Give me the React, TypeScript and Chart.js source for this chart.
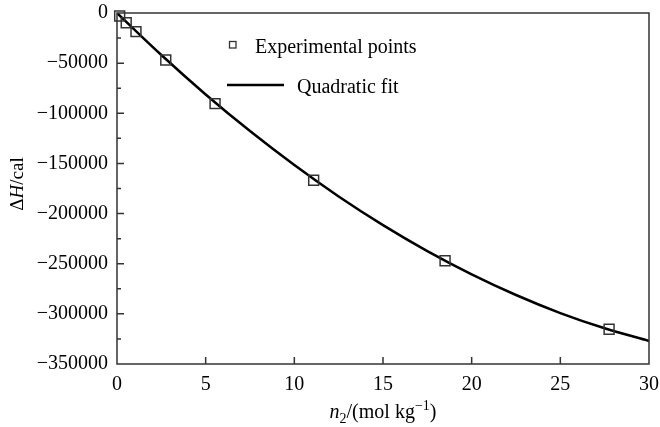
import React, { useEffect, useRef } from 'react';
import { Chart, registerables } from 'chart.js';

Chart.register(...registerables);

// Experimental points (molality, ΔH/cal)
const expX = [0.15, 0.52, 1.07, 2.75, 5.53, 11.09, 18.5, 27.75];
const expY = [-3000, -9700, -18600, -46900, -90400, -166800, -247000, -315300];

// Quadratic fit curve
const fitX = [0, 2.5, 5, 7.5, 10, 12.5, 15, 17.5, 20, 22.5, 25, 27.5, 30];
const fitY = [0, -41900, -81200, -117700, -151600, -182900, -211500, -237400, -260600, -281200, -299200, -314400, -327000];

const xTicks = [0, 5, 10, 15, 20, 25, 30];
const yTicks = [0, -50000, -100000, -150000, -200000, -250000, -300000, -350000];
const yMinorTicks = [-25000, -75000, -125000, -175000, -225000, -275000, -325000];

const legendLabels = ['Experimental points', 'Quadratic fit'];

const FONT = '"Liberation Serif", "Times New Roman", serif';

export default function App() {
  const ref = useRef<HTMLCanvasElement>(null);

  useEffect(() => {
    document.body.style.margin = '0';
    const canvas = ref.current;
    if (!canvas) return;

    const framePlugin = {
      id: 'framePlugin',
      afterDraw(chart: any) {
        const ctx = chart.ctx as CanvasRenderingContext2D;
        const { left, right, top, bottom } = chart.chartArea;
        const xs = chart.scales.x;
        const ys = chart.scales.y;
        ctx.save();
        // frame
        ctx.strokeStyle = '#333';
        ctx.lineWidth = 1.5;
        ctx.strokeRect(left, top, right - left, bottom - top);
        // inward ticks
        ctx.beginPath();
        xTicks.forEach((v) => {
          const px = xs.getPixelForValue(v);
          if (v === 0 || v === 30) return;
          ctx.moveTo(px, bottom);
          ctx.lineTo(px, bottom - 7);
        });
        yTicks.forEach((v) => {
          const py = ys.getPixelForValue(v);
          if (v === 0 || v === -350000) return;
          ctx.moveTo(left, py);
          ctx.lineTo(left + 7, py);
        });
        yMinorTicks.forEach((v) => {
          const py = ys.getPixelForValue(v);
          ctx.moveTo(left, py);
          ctx.lineTo(left + 4, py);
        });
        ctx.stroke();

        // legend
        ctx.fillStyle = '#000';
        ctx.font = `20px ${FONT}`;
        ctx.textBaseline = 'alphabetic';
        ctx.textAlign = 'left';
        ctx.strokeStyle = '#333';
        ctx.lineWidth = 1.3;
        ctx.strokeRect(229.5, 41.5, 6.5, 6.5);
        ctx.fillText(legendLabels[0], 255, 53);
        ctx.strokeStyle = '#000';
        ctx.lineWidth = 2.5;
        ctx.beginPath();
        ctx.moveTo(227, 85);
        ctx.lineTo(284, 85);
        ctx.stroke();
        ctx.fillText(legendLabels[1], 297, 93);

        // x title: n2/(mol kg−1)
        const parts: [string, string, number][] = [
          ['n', `italic 20px ${FONT}`, 0],
          ['2', `14px ${FONT}`, 5],
          ['/(mol kg', `20px ${FONT}`, 0],
          ['\u22121', `14px ${FONT}`, -8],
          [')', `20px ${FONT}`, 0],
        ];
        let total = 0;
        parts.forEach(([t, f]) => {
          ctx.font = f;
          total += ctx.measureText(t).width;
        });
        let cx = (left + right) / 2 - total / 2;
        parts.forEach(([t, f, dy]) => {
          ctx.font = f;
          ctx.fillText(t, cx, 418 + dy);
          cx += ctx.measureText(t).width;
        });

        // y title: ΔH/cal
        const yparts: [string, string][] = [
          ['\u0394', `19px ${FONT}`],
          ['H', `italic 19px ${FONT}`],
          ['/cal', `19px ${FONT}`],
        ];
        let ytotal = 0;
        yparts.forEach(([t, f]) => {
          ctx.font = f;
          ytotal += ctx.measureText(t).width;
        });
        ctx.translate(23, 184);
        ctx.rotate(-Math.PI / 2);
        let yx = -ytotal / 2;
        yparts.forEach(([t, f]) => {
          ctx.font = f;
          ctx.fillText(t, yx, 0);
          yx += ctx.measureText(t).width;
        });
        ctx.restore();
      },
    };

    const chart = new Chart(canvas, {
      type: 'scatter',
      data: {
        datasets: [
          {
            label: legendLabels[1],
            data: fitX.map((x, i) => ({ x, y: fitY[i] })),
            showLine: true,
            borderColor: '#000',
            borderWidth: 2.5,
            pointRadius: 0,
            cubicInterpolationMode: 'monotone',
            order: 2,
          } as any,
          {
            label: legendLabels[0],
            data: expX.map((x, i) => ({ x, y: expY[i] })),
            showLine: false,
            pointStyle: 'rect',
            pointRadius: 7,
            borderColor: '#333',
            borderWidth: 1.5,
            backgroundColor: 'rgba(0,0,0,0)',
            clip: false,
            order: 1,
          } as any,
        ],
      },
      options: {
        responsive: false,
        animation: false,
        layout: { padding: { top: 13, right: 11, left: 0, bottom: 0 } },
        plugins: {
          legend: { display: false },
          tooltip: { enabled: false },
        },
        scales: {
          x: {
            type: 'linear',
            min: 0,
            max: 30,
            afterBuildTicks: (s: any) => {
              s.ticks = xTicks.map((v) => ({ value: v }));
            },
            afterFit: (s: any) => {
              s.height = 63;
              s.paddingLeft = 0;
              s.paddingRight = 0;
            },
            grid: { display: false, drawTicks: false },
            border: { display: false },
            ticks: {
              padding: 9,
              color: '#000',
              font: { family: FONT, size: 20 },
              maxRotation: 0,
              callback: (v: any) => String(v),
            },
          },
          y: {
            type: 'linear',
            min: -350000,
            max: 0,
            afterBuildTicks: (s: any) => {
              s.ticks = yTicks.map((v) => ({ value: v }));
            },
            afterFit: (s: any) => {
              s.width = 117;
              s.paddingTop = 0;
              s.paddingBottom = 0;
            },
            grid: { display: false, drawTicks: false },
            border: { display: false },
            ticks: {
              padding: 9,
              color: '#000',
              font: { family: FONT, size: 20 },
              callback: (v: any) => String(v).replace('-', '\u2212'),
            },
          },
        },
      },
      plugins: [framePlugin],
    });

    return () => chart.destroy();
  }, []);

  return (
    <div style={{ width: 660, height: 427 }}>
      <canvas ref={ref} width={660} height={427} style={{ display: 'block' }} />
    </div>
  );
}
